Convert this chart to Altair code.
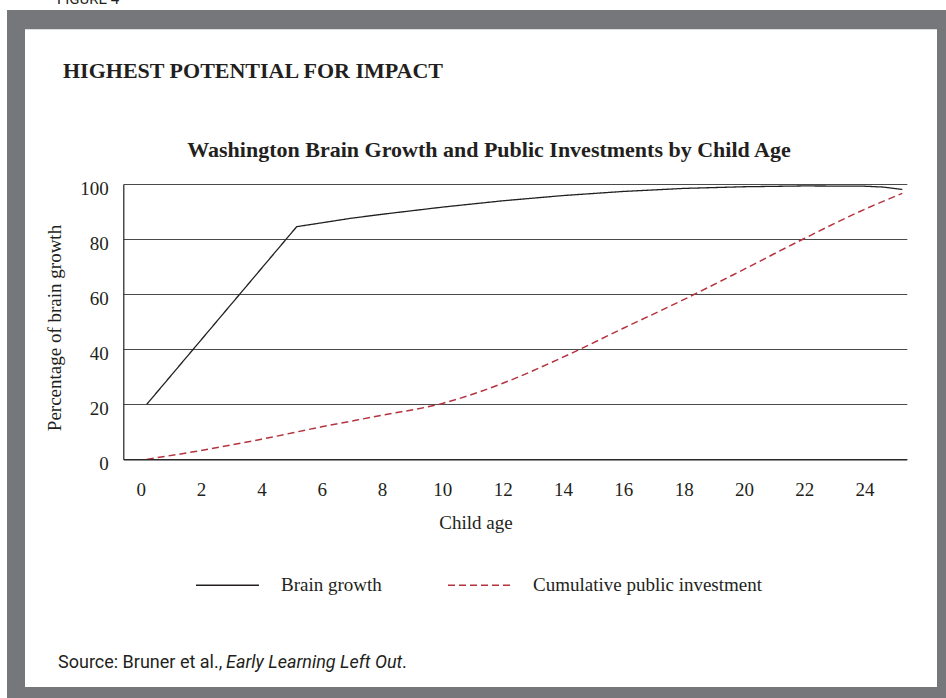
import altair as alt
import pandas as pd

# ---- data ----
brain_age = [0.2, 5.17, 6, 7, 8, 10, 12, 14, 16, 18, 20, 22, 24, 24.6, 25.25]
brain_pct = [20, 84.5, 85.9, 87.6, 89.0, 91.6, 93.9, 95.8, 97.3, 98.4, 99.0, 99.3, 99.2, 98.9, 98.0]
inv_age = [0.2, 2, 4, 6, 8, 10, 12, 14, 16, 18, 20, 22, 24, 25.25]
inv_pct = [0, 3.2, 7.3, 11.8, 16.0, 20.3, 27.6, 37.1, 47.6, 58.0, 69.0, 80.2, 90.8, 96.6]
series = ["Brain growth", "Cumulative public investment"]
x_ticks = list(range(0, 25, 2))
y_ticks = [0, 20, 40, 60, 80, 100]

brain_df = pd.DataFrame({"age": brain_age, "pct": brain_pct, "series": series[0]})
inv_df = pd.DataFrame({"age": inv_age, "pct": inv_pct, "series": series[1]})

SERIF = "Liberation Serif"
SANS = "Roboto"
INK = "#231f20"
GRAY = "#76777a"

# plot-area origin on page: (123.3, 184); size 783.5 x 275.3
W, H = 783.5, 275.3
OX, OY = 123.3, 184.0

x_enc = alt.X("age:Q", scale=alt.Scale(domain=[-0.58, 25.4], nice=False, zero=False),
              axis=alt.Axis(values=x_ticks, title=None, grid=False, ticks=False, tickSize=0,
                            domainColor=INK, domainWidth=1.2, labelFont=SERIF, labelFontSize=19,
                            labelColor=INK, labelBaseline="alphabetic", labelPadding=36,
                            labelFlush=False, zindex=1))
y_enc = alt.Y("pct:Q", scale=alt.Scale(domain=[0, 100], nice=False),
              axis=alt.Axis(values=y_ticks, title=None, grid=True, gridColor="#4a4a4a",
                            gridWidth=1, ticks=False, tickSize=0, domainColor=INK, domainWidth=1.2,
                            labelFont=SERIF, labelFontSize=19, labelColor=INK,
                            labelBaseline="alphabetic", labelOffset=10, labelPadding=15,
                            labelFlush=False, zindex=0))

legend = alt.Legend(orient="none", legendX=195 - OX, legendY=584 - OY - 31.5, direction="horizontal",
                    title=None, symbolType="stroke", symbolSize=3969, symbolStrokeWidth=1.3,
                    labelFont=SERIF, labelFontSize=19, labelColor=INK, labelOffset=21,
                    labelLimit=0, columnPadding=63, padding=0)
color_enc = alt.Color("series:N", scale=alt.Scale(domain=series, range=[INK, "#b5333f"]), legend=legend)
dash_enc = alt.StrokeDash("series:N", scale=alt.Scale(domain=series, range=[[1, 0], [7, 4]]), legend=legend)

brain = alt.Chart(brain_df).mark_line(strokeWidth=1.3).encode(
    x=x_enc, y=y_enc, color=color_enc, strokeDash=dash_enc)
inv = alt.Chart(inv_df).mark_line(strokeWidth=1.5, interpolate="monotone").encode(
    x=x_enc, y=y_enc, color=color_enc, strokeDash=dash_enc)

dummy = pd.DataFrame({"a": [0]})
base = alt.Chart(dummy)


def band(x1, x2, y1, y2):
    return base.mark_rect(color=GRAY).encode(
        x=alt.value(x1 - OX), x2=alt.value(x2 - OX), y=alt.value(y1 - OY), y2=alt.value(y2 - OY))


frame = [band(7, 946, 10, 29.3), band(7, 25, 10, 698), band(937, 946, 10, 698), band(7, 946, 687, 698)]


def txt(s, x, y, **kw):
    return base.mark_text(**kw).encode(x=alt.value(x - OX), y=alt.value(y - OY), text=alt.value(s))


texts = [
    txt("FIGURE 4", 57, 4, font=SANS, fontSize=15, color=INK, align="left", baseline="alphabetic"),
    txt("HIGHEST POTENTIAL FOR IMPACT", 63, 78, font=SERIF, fontSize=22, fontWeight="bold",
        color=INK, align="left", baseline="alphabetic"),
    txt("Washington Brain Growth and Public Investments by Child Age", 489, 157, font=SERIF,
        fontSize=22, fontWeight="bold", color=INK, align="center", baseline="alphabetic"),
    txt("Child age", 476, 529, font=SERIF, fontSize=19, color=INK, align="center",
        baseline="alphabetic"),
    txt("Percentage of brain growth", 55, 328, font=SERIF, fontSize=19, color=INK, align="center",
        baseline="middle", angle=270),
    txt("Source: Bruner et al., ", 58, 668, font=SANS, fontSize=18, color=INK, align="left",
        baseline="alphabetic"),
    txt("Early Learning Left Out", 226, 668, font=SANS, fontSize=18, fontStyle="italic", color=INK,
        align="left", baseline="alphabetic"),
    txt(".", 402, 668, font=SANS, fontSize=18, color=INK, align="left", baseline="alphabetic"),
]

chart = alt.layer(*frame, brain, inv, *texts).properties(
    width=W, height=H, autosize="none",
    padding={"left": OX, "top": OY, "right": 946 - OX - W, "bottom": 698 - OY - H},
    background="white",
).configure_view(stroke=None)

chart.save("out.html", embed_options={"renderer": "svg", "actions": False})
